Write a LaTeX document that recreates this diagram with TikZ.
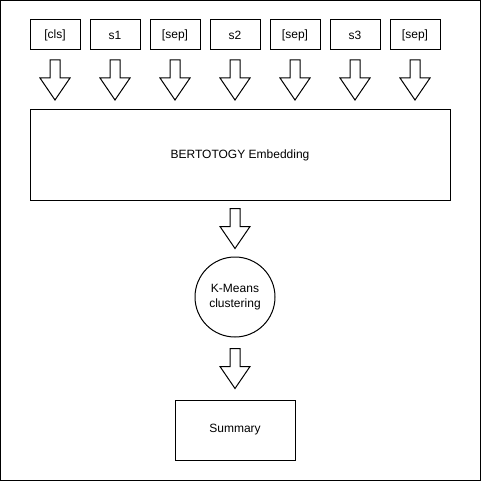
\documentclass[tikz,border=0pt]{standalone}
\usepackage{fontspec}
\setmainfont{Liberation Sans}
\usetikzlibrary{calc}

\tikzset{
  tokbox/.style={draw, minimum width=50, minimum height=30, inner sep=0},
  stagebox/.style={draw, inner sep=0},
  blockarrow/.pic={
    \draw[line join=miter] (-5,-20) -- (5,-20) -- (5,-2) -- (15,-2) -- (0,20) -- (-15,-2) -- (-5,-2) -- cycle;
  }
}

\begin{document}
\begin{tikzpicture}[x=1pt,y=-1pt,line width=1pt,font=\fontsize{12}{15}\selectfont]
        \useasboundingbox (0,0) rectangle (481,481);
        \draw (0.5,0.5) rectangle (480,480);
        \foreach \i/\lbl in {1/[cls],2/s1,3/[sep],4/s2,5/[sep],6/s3,7/[sep]} {
        \node[tokbox] (tok\i) at ({-5+60*\i},35) {\lbl};
        }
        \node[stagebox, minimum width=420, minimum height=90] (emb) at (240,155) {BERTOTOGY Embedding};
        \node[stagebox, circle, minimum size=80, align=center] (kmeans) at (235,297) {K-Means\\clustering};
        \node[stagebox, minimum width=120, minimum height=60] (summary) at (235,430) {Summary};
        \foreach \i in {1,...,7} {
        \pic at ($(tok\i.south)!0.5!(tok\i.south |- emb.north)$) {blockarrow};
        }
        \pic at ($(kmeans.north)!0.5!(kmeans.north |- emb.south)$) {blockarrow};
        \pic at ($(kmeans.south)!0.5!(summary.north)$) {blockarrow};
    \end{tikzpicture}
\end{document}
